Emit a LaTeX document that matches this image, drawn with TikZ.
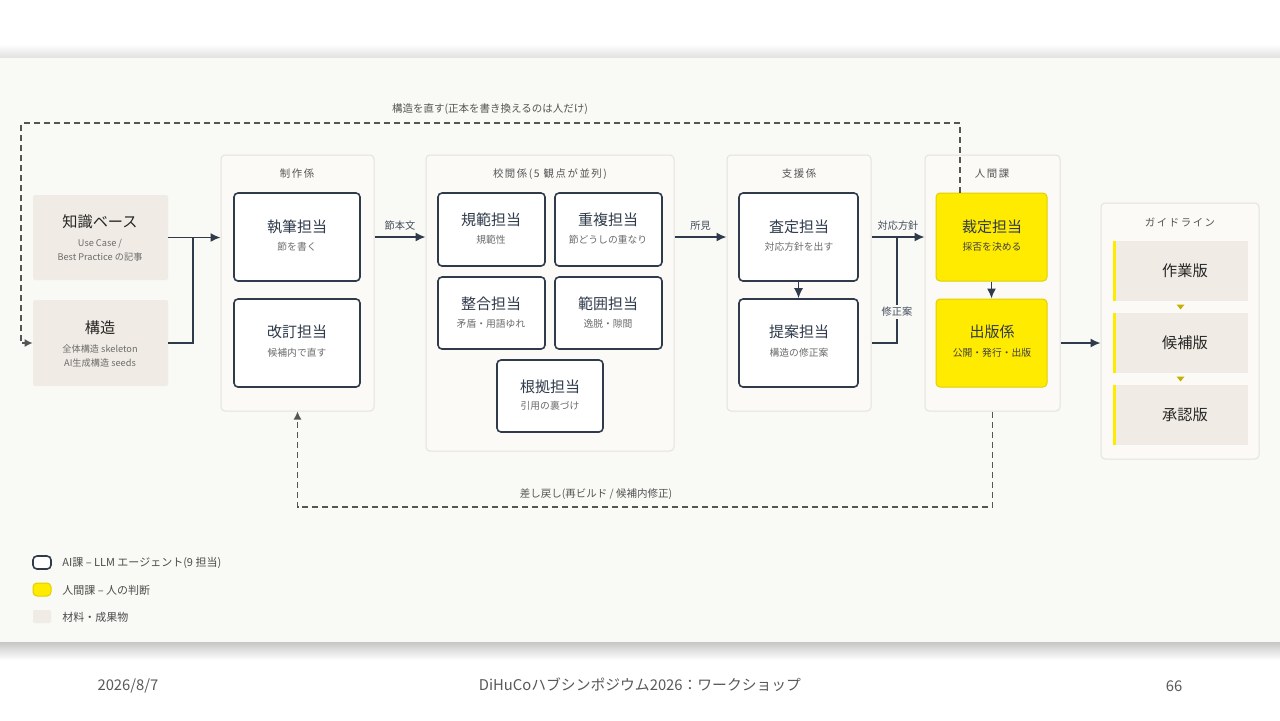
\documentclass[tikz,border=0pt]{standalone}
\usepackage{fontspec}
\setmainfont{Noto Sans CJK JP}
\newfontfamily\lblfont[LetterSpace=15]{Noto Sans CJK JP}
\usetikzlibrary{arrows.meta,fit,calc}
\definecolor{panelbg}{HTML}{F9F9F5}
\definecolor{grpfill}{HTML}{FBFAF7}
\definecolor{grpborder}{HTML}{E4E2DC}
\definecolor{navy}{HTML}{2F3A4B}
\definecolor{beige}{HTML}{F0ECE5}
\definecolor{yellowc}{HTML}{FFEB00}
\definecolor{yellowdk}{HTML}{E2CF00}
\definecolor{tric}{HTML}{C4B000}
\definecolor{subgray}{HTML}{6B6B6B}
\definecolor{lblgray}{HTML}{555555}
\definecolor{dashc}{HTML}{555555}
\definecolor{footgray}{HTML}{595959}
\tikzset{
  group/.style={draw=grpborder, fill=grpfill, rounded corners=2pt, line width=0.5pt, inner sep=0pt},
  agent/.style={draw=navy, fill=white, rounded corners=2pt, line width=0.8pt, inner sep=0pt},
  human/.style={draw=yellowdk, fill=yellowc, rounded corners=2pt, line width=0.5pt, inner sep=0pt},
  material/.style={fill=beige, rounded corners=1pt, inner sep=0pt},
  ttl/.style={font=\fontsize{7.5}{9}\selectfont, text=navy, inner sep=0pt},
  mttl/.style={font=\fontsize{7.6}{9}\selectfont, text=black!85, inner sep=0pt},
  sub/.style={font=\fontsize{4.9}{6}\selectfont, text=subgray, inner sep=0pt},
  msub/.style={font=\fontsize{4.6}{7}\selectfont, text=subgray, inner sep=0pt, align=center},
  hsub/.style={font=\fontsize{4.9}{6}\selectfont, text=black!75, inner sep=0pt},
  grplbl/.style={font=\lblfont\fontsize{5.2}{6}\selectfont, text=lblgray, inner sep=0pt},
  flbl/.style={font=\fontsize{5.1}{6}\selectfont, text=navy!90, inner sep=1pt},
  dlbl/.style={font=\fontsize{5.25}{6}\selectfont, text=lblgray, inner sep=0pt},
  leg/.style={font=\fontsize{5.5}{6}\selectfont, text=black!70, inner sep=0pt, anchor=west},
  flow/.style={draw=navy, line width=0.75pt, -{Latex[length=5pt,width=4.5pt]}},
  flowline/.style={draw=navy, line width=0.75pt},
  fb/.style={draw=dashc, line width=0.6pt, dash pattern=on 3pt off 2pt},
  foot/.style={font=\fontsize{7.4}{8}\selectfont, text=footgray, inner sep=0pt}
}
\begin{document}
\begin{tikzpicture}[x=0.5pt,y=-0.5pt]
\useasboundingbox (0,0) rectangle (1280,720);
\fill[white] (0,0) rectangle (1280,720);
% panel and shadow
\shade[top color=white, bottom color=black!12] (0,44) rectangle (1280,58);
\shade[top color=black!22, bottom color=white] (0,642) rectangle (1280,660);
\fill[panelbg] (0,58) rectangle (1280,642);

% materials
\node[material, fit={(33,195) (168,280)}] (kb) {};
\node[mttl] (kbt) at (100,222) {知識ベース};
\node[msub] (kbs) at (100,250) {Use Case /\\Best Practice の記事};
\node[material, fit={(33,300) (168,386)}] (st) {};
\node[mttl] (stt) at (100,328) {構造};
\node[msub] (sts) at (100,356) {全体構造 skeleton\\AI生成構造 seeds};

% 制作係
\node[group, fit={(221,155) (374,411)}] (prod) {};
\node[grplbl] (prodl) at (297,174) {制作係};
\node[agent, fit={(234,193) (360,281)}] (w1) {};
\node[ttl] (w1t) at (297,227) {執筆担当};
\node[sub] (w1s) at (297,247) {節を書く};
\node[agent, fit={(234,299) (360,387)}] (w2) {};
\node[ttl] (w2t) at (297,332) {改訂担当};
\node[sub] (w2s) at (297,353) {候補内で直す};

% 校閲係
\node[group, fit={(426,155) (674,451)}] (rev) {};
\node[grplbl] (revl) at (550,174) {校閲係(5 観点が並列)};
\node[agent, fit={(438,193) (545,266)}] (r1) {};
\node[ttl] (r1t) at (491,220) {規範担当};
\node[sub] (r1s) at (491,240) {規範性};
\node[agent, fit={(555,193) (662,266)}] (r2) {};
\node[ttl] (r2t) at (608,220) {重複担当};
\node[sub] (r2s) at (608,240) {節どうしの重なり};
\node[agent, fit={(438,277) (545,349)}] (r3) {};
\node[ttl] (r3t) at (491,304) {整合担当};
\node[sub] (r3s) at (491,324) {矛盾・用語ゆれ};
\node[agent, fit={(555,277) (662,349)}] (r4) {};
\node[ttl] (r4t) at (608,304) {範囲担当};
\node[sub] (r4s) at (608,324) {逸脱・隙間};
\node[agent, fit={(497,360) (603,432)}] (r5) {};
\node[ttl] (r5t) at (550,387) {根拠担当};
\node[sub] (r5s) at (550,406) {引用の裏づけ};

% 支援係
\node[group, fit={(727,155) (871,411)}] (sup) {};
\node[grplbl] (supl) at (799,174) {支援係};
\node[agent, fit={(739,193) (858,281)}] (sa) {};
\node[ttl] (sat) at (799,227) {査定担当};
\node[sub] (sas) at (799,247) {対応方針を出す};
\node[agent, fit={(739,299) (858,387)}] (pa) {};
\node[ttl] (pat) at (799,332) {提案担当};
\node[sub] (pas) at (799,353) {構造の修正案};

% 人間課
\node[group, fit={(925,155) (1060,411)}] (hum) {};
\node[grplbl] (huml) at (992,174) {人間課};
\node[human, fit={(936,193) (1047,281)}] (sai) {};
\node[ttl] (sait) at (992,227) {裁定担当};
\node[hsub] (sais) at (992,247) {採否を決める};
\node[human, fit={(936,299) (1047,387)}] (pub) {};
\node[ttl] (pubt) at (992,332) {出版係};
\node[hsub] (pubs) at (992,353) {公開・発行・出版};

% ガイドライン
\node[group, fit={(1101,203) (1259,459)}] (gl) {};
\node[grplbl] (gll) at (1180,222) {ガイドライン};
\node[material, rounded corners=0pt, fit={(1113,241) (1248,301)}] (v1) {};
\node[material, rounded corners=0pt, fit={(1113,313) (1248,373)}] (v2) {};
\node[material, rounded corners=0pt, fit={(1113,385) (1248,445)}] (v3) {};
\foreach \v in {v1,v2,v3}{\fill[yellowc] (\v.north west) rectangle ([xshift=1.5pt]\v.south west);}
\node[mttl] (v1t) at (1185,271) {作業版};
\node[mttl] (v2t) at (1185,343) {候補版};
\node[mttl] (v3t) at (1185,415) {承認版};
\fill[tric] ($(v1.south)!0.5!(v2.north)$) ++(-4,-2.5) -- ++(8,0) -- ++(-4,5) -- cycle;
\fill[tric] ($(v2.south)!0.5!(v3.north)$) ++(-4,-2.5) -- ++(8,0) -- ++(-4,5) -- cycle;

% main flow
\coordinate (j1) at (193,238);
\draw[flow] (kb.east) -- (prod.west |- kb.east);
\draw[flowline] (st.east) -| (j1);
\draw[flow] (prod.east |- w1.east) -- (rev.west |- w1.east) node[flbl, midway, above=2pt] (l1) {節本文};
\draw[flow] (rev.east |- w1.east) -- (sup.west |- w1.east) node[flbl, midway, above=2pt] (l2) {所見};
\draw[flow] (sup.east |- sa.east) -- (hum.west |- sa.east) node[flbl, midway, above=2pt] (l3) {対応方針};
\coordinate (j2) at (897,238);
\draw[flowline] (sup.east |- pa.east) -| (j2);
\node[flbl, fill=panelbg] (l4) at (897,312) {修正案};
\draw[flow] (sa.south) -- (pa.north);
\draw[flow] (sai.south) -- (pub.north);
\draw[flow] (hum.east |- pub.east) -- (gl.west |- pub.east);

% feedback loops
\coordinate (t1) at (960,123);
\coordinate (t2) at (21,123);
\draw[fb, -{Latex[length=4pt,width=4pt]}] (sai.north -| t1) -- (t1) -- (t2) |- (st.west);
\node[dlbl] (tl) at (490,109) {構造を直す(正本を書き換えるのは人だけ)};
\coordinate (b1) at (992,507);
\draw[fb, -{Latex[length=4pt,width=4pt]}] (hum.south) -- (hum.south |- b1) -| (prod.south);
\node[dlbl] (bl) at (596,494) {差し戻し(再ビルド / 候補内修正)};

% legend
\node[agent, fit={(33,556) (51,569)}] (lg1) {};
\node[leg] (lg1t) at (62,563) {AI課 – LLM エージェント(9 担当)};
\node[human, fit={(33,583) (51,596)}] (lg2) {};
\node[leg] (lg2t) at (62,590) {人間課 – 人の判断};
\node[material, fit={(33,610) (51,623)}] (lg3) {};
\node[leg] (lg3t) at (62,617) {材料・成果物};

% footer
\node[foot] (f1) at (128,686) {2026/8/7};
\node[foot] (f2) at (640,685) {DiHuCoハブシンポジウム2026：ワークショップ};
\node[foot] (f3) at (1174,686) {66};
\end{tikzpicture}
\end{document}
